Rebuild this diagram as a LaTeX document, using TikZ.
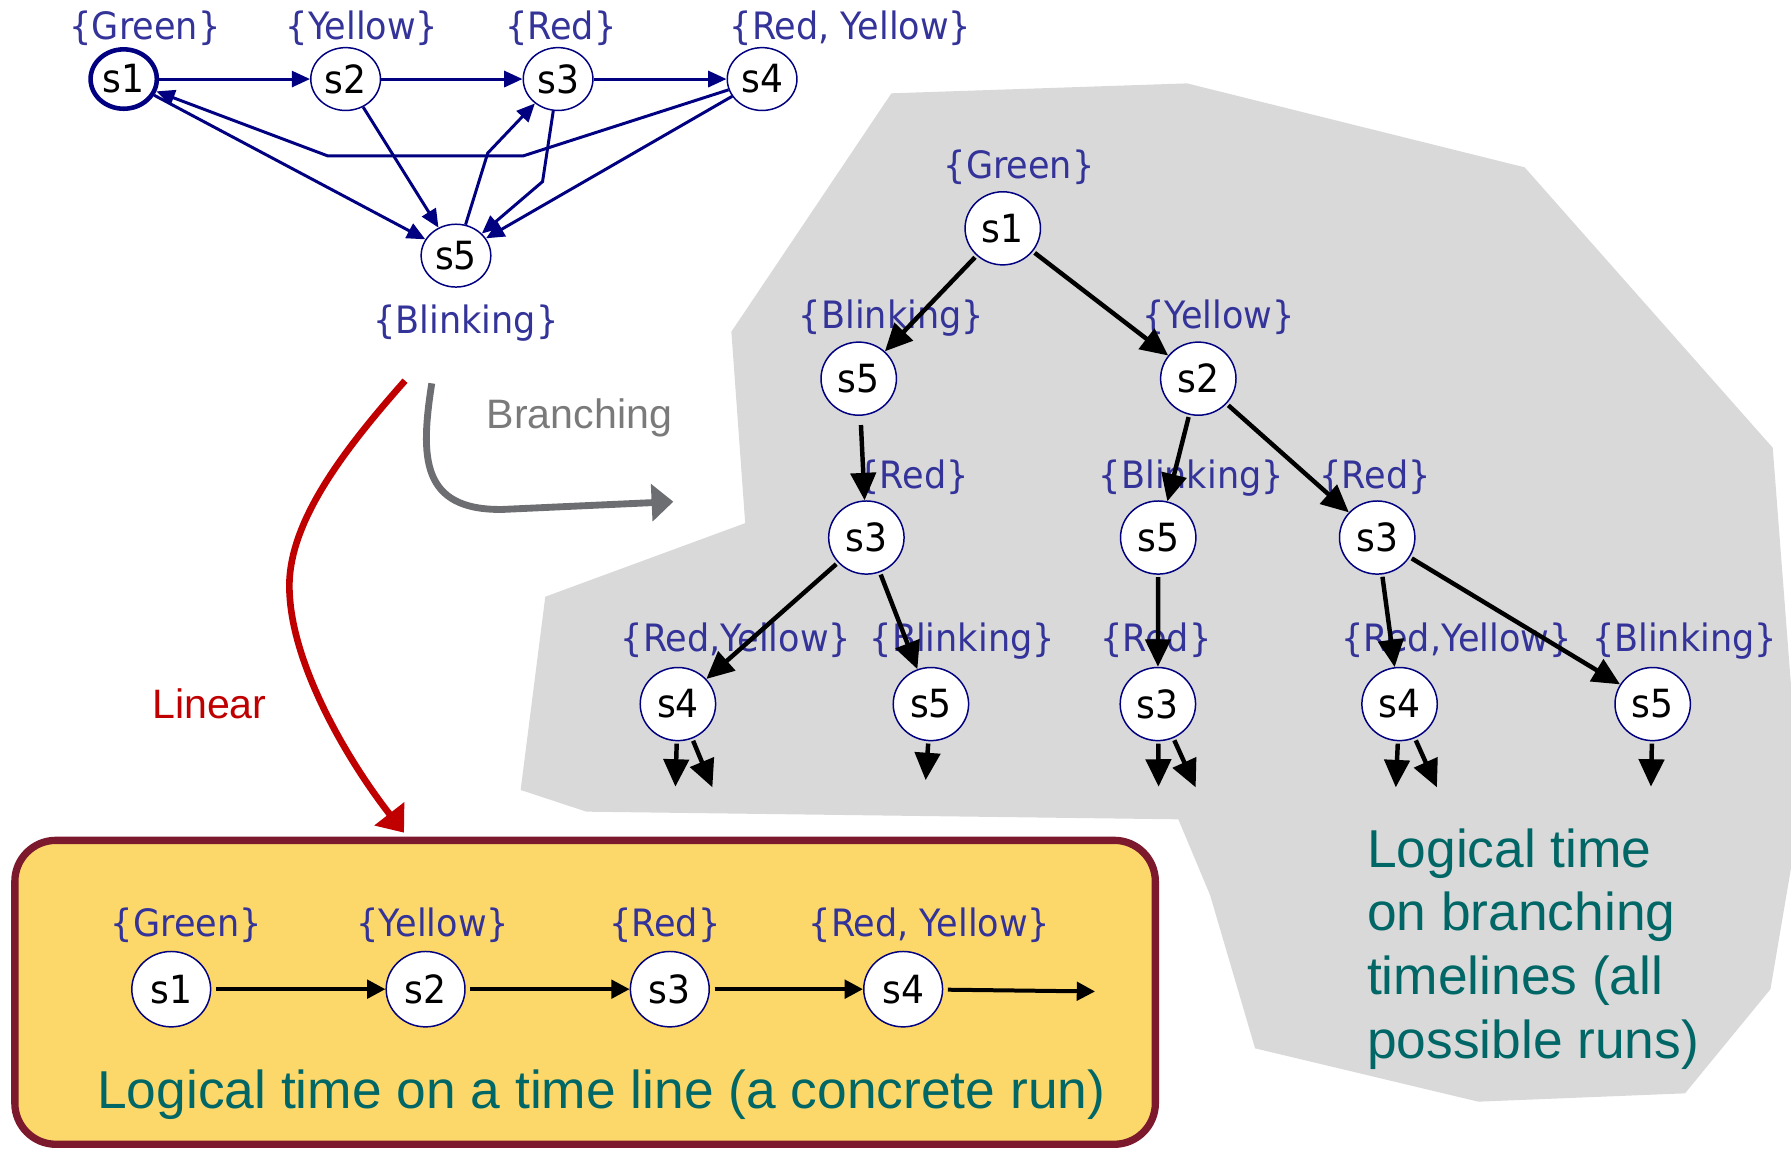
\documentclass[tikz,border=0pt]{standalone}
\usepackage{fontspec}
\setmainfont{Liberation Sans}
\newfontfamily\lblfont[FakeStretch=0.93]{DejaVu Sans}
\usetikzlibrary{shapes.geometric,arrows.meta}
\definecolor{navyc}{RGB}{0,0,128}
\definecolor{lblblue}{RGB}{51,51,153}
\definecolor{grayfill}{RGB}{217,217,217}
\definecolor{boxyellow}{RGB}{252,216,106}
\definecolor{boxred}{RGB}{125,25,45}
\definecolor{tealc}{RGB}{0,102,102}
\definecolor{redc}{RGB}{192,0,0}
\definecolor{arrgray}{RGB}{109,110,113}
\definecolor{txtgray}{RGB}{122,122,122}
\tikzset{
  lbl/.style={font=\lblfont\fontsize{33}{39}\selectfont, text=lblblue, anchor=base, inner sep=0pt},
  st/.style={ellipse, draw=navyc, line width=1.3pt, fill=white, inner sep=0pt, text=black,
             font=\lblfont\fontsize{34}{40}\selectfont},
  topst/.style={st, minimum width=61pt, minimum height=55pt},
  treest/.style={st, minimum width=66pt, minimum height=64pt},
  runst/.style={st, minimum width=69pt, minimum height=66pt},
  navyarr/.style={draw=navyc, line width=2.6pt, -{Triangle[length=16pt,width=14pt]}},
  treearr/.style={draw=black, line width=3.9pt, shorten <=2pt, -{Triangle[length=24pt,width=22pt]}},
  runarr/.style={draw=black, line width=3.5pt, shorten <=4pt, -{Triangle[length=16pt,width=16pt]}},
  bigtxt/.style={font=\fontsize{46.7}{56}\selectfont, text=tealc, inner sep=0pt},
  midtxt/.style={font=\fontsize{36}{43}\selectfont, inner sep=0pt}
}
\begin{document}
\begin{tikzpicture}[x=1pt,y=-1pt]
\useasboundingbox (0,0) rectangle (1568,1007);

% gray background region
\fill[grayfill] (780.4,81.7) -- (1039.3,73) -- (1334.8,146.5) -- (1552,392) -- (1568,600)
  -- (1568,760) -- (1550,866) -- (1475.2,957.2) -- (1294.3,964.5) -- (1098.8,917.8)
  -- (1059.4,783.6) -- (1031.6,717.3) -- (513.4,710.6) -- (455.8,691.6) -- (477.4,522.4)
  -- (652.4,458) -- (640.3,290.4) -- cycle;

% ---------- top transition system ----------
\node[topst, line width=4pt, minimum width=58pt, minimum height=52pt] (a1) at (108.3,69.2) {s1};
\node[topst] (a2) at (302.6,69.2) {s2};
\node[topst] (a3) at (488.6,69.2) {s3};
\node[topst] (a4) at (667.2,69.2) {s4};
\node[topst] (a5) at (399.2,223.8) {s5};
\node[lbl] (la1) at (127,35) {\{Green\}};
\node[lbl] (la2) at (316.9,35) {\{Yellow\}};
\node[lbl] (la3) at (491,35) {\{Red\}};
\node[lbl] (la4) at (744.6,35) {\{Red, Yellow\}};
\node[lbl] (la5) at (407.9,291.8) {\{Blinking\}};
\coordinate (b1) at (458,136.5);
\coordinate (b2) at (287,136.5);
\coordinate (b3) at (427,134);
\coordinate (b4) at (475,159);
\draw[navyarr] (a1) -- (a2);
\draw[navyarr] (a2) -- (a3);
\draw[navyarr] (a3) -- (a4);
\draw[navyarr] (a4) -- (b1) -- (b2) -- (a1);
\draw[navyarr] (a1) -- (a5);
\draw[navyarr] (a2) -- (a5);
\draw[navyarr] (a5) -- (b3) -- (a3);
\draw[navyarr] (a3) -- (b4) -- (a5);
\draw[navyarr] (a4) -- (a5);

% ---------- branching / linear arrows ----------
\coordinate (br0) at (378,335.6);
\coordinate (br1) at (589.5,439.2);
\draw[arrgray, line width=6pt, -{Triangle[length=19pt,width=32pt]}]
  (br0) .. controls (368,400) and (368,447) .. (440,446) -- (br1);
\node[midtxt, text=txtgray, anchor=base west] (brtxt) at (426,375) {Branching};
\coordinate (lr0) at (354.6,333.3);
\coordinate (lr1) at (353.7,729);
\draw[redc, line width=5.8pt, -{Triangle[length=21pt,width=32pt]}]
  (lr0) .. controls (300,395) and (250,460) .. (253.5,519)
        .. controls (256,580) and (300,660) .. (lr1);
\node[midtxt, text=redc, anchor=base east] (lintxt) at (233.5,629) {Linear};

% ---------- computation tree ----------
\node[lbl] (lt1) at (892.2,156) {\{Green\}};
\node[lbl] (lt2) at (780.4,287.5) {\{Blinking\}};
\node[lbl] (lt3) at (1066.7,287.5) {\{Yellow\}};
\node[lbl] (lt4) at (799.3,427.5) {\{Red\}};
\node[lbl] (lt5) at (1043,427.5) {\{Blinking\}};
\node[lbl] (lt6) at (1203.8,427.5) {\{Red\}};
\node[lbl] (lt7) at (644.3,570.6) {\{Red,Yellow\}};
\node[lbl] (lt8) at (842.5,570.6) {\{Blinking\}};
\node[lbl] (lt9) at (1011.9,570.6) {\{Red\}};
\node[lbl] (lt10) at (1275,570.6) {\{Red,Yellow\}};
\node[lbl] (lt11) at (1474.7,570.6) {\{Blinking\}};

\node[treest] (t1) at (877.9,199.9) {s1};
\node[treest] (t2) at (751.8,331.5) {s5};
\node[treest] (t3) at (1049.1,331.5) {s2};
\node[treest] (t4) at (758.5,470.6) {s3};
\node[treest] (t5) at (1014,470.6) {s5};
\node[treest] (t6) at (1205.7,470.6) {s3};
\node[treest] (t7) at (593.5,616.4) {s4};
\node[treest] (t8) at (815,616.4) {s5};
\node[treest] (t9) at (1013.7,616.4) {s3};
\node[treest] (t10) at (1225.3,616.4) {s4};
\node[treest] (t11) at (1446.9,616.4) {s5};

\draw[treearr] (t1) -- (t2);
\draw[treearr] (t1) -- (t3);
\draw[treearr, shorten <=8pt] (t2) -- (t4);
\draw[treearr] (t3) -- (t5);
\draw[treearr] (t3) -- (t6);
\draw[treearr] (t4) -- (t7);
\draw[treearr] (t4) -- (t8);
\draw[treearr] (t5) -- (t9);
\draw[treearr] (t6) -- (t10);
\draw[treearr] (t6) -- (t11);

\coordinate (e1) at (591.3,688.7);
\coordinate (e2) at (623.7,689.3);
\coordinate (e3) at (810.4,683);
\coordinate (e4) at (1014.4,688.7);
\coordinate (e5) at (1046.8,689.3);
\coordinate (e6) at (1222,689.3);
\coordinate (e7) at (1258,689.3);
\coordinate (e8) at (1445.4,688.7);
\draw[treearr] (t7) -- (e1);
\draw[treearr] (t7) -- (e2);
\draw[treearr] (t8) -- (e3);
\draw[treearr] (t9) -- (e4);
\draw[treearr] (t9) -- (e5);
\draw[treearr] (t10) -- (e6);
\draw[treearr] (t10) -- (e7);
\draw[treearr] (t11) -- (e8);

\node[bigtxt, anchor=base west] (bt1) at (1196.6,759.3) {Logical time};
\node[bigtxt, anchor=base west] (bt2) at (1196.6,814.8) {on branching};
\node[bigtxt, anchor=base west] (bt3) at (1196.6,870.7) {timelines (all};
\node[bigtxt, anchor=base west] (bt4) at (1196.6,926.4) {possible runs)};

% ---------- linear run box ----------
\draw[boxred, line width=6.4pt, fill=boxyellow, rounded corners=36pt]
  (13,735.7) rectangle (1011.5,1001.8);
\node[runst] (r1) at (149.9,866) {s1};
\node[runst] (r2) at (372.6,866) {s2};
\node[runst] (r3) at (586.4,866) {s3};
\node[runst] (r4) at (790.7,866) {s4};
\coordinate (re) at (958.7,868);
\node[lbl] (lr1l) at (163.1,820) {\{Green\}};
\node[lbl] (lr2l) at (378.8,820) {\{Yellow\}};
\node[lbl] (lr3l) at (582.1,820) {\{Red\}};
\node[lbl] (lr4l) at (813.7,820) {\{Red, Yellow\}};
\draw[runarr] (r1) -- (r2);
\draw[runarr] (r2) -- (r3);
\draw[runarr] (r3) -- (r4);
\draw[runarr] (r4) -- (re);
\node[bigtxt, anchor=base] (boxtxt) at (526.4,970.3) {Logical time on a time line (a concrete run)};
\end{tikzpicture}
\end{document}
